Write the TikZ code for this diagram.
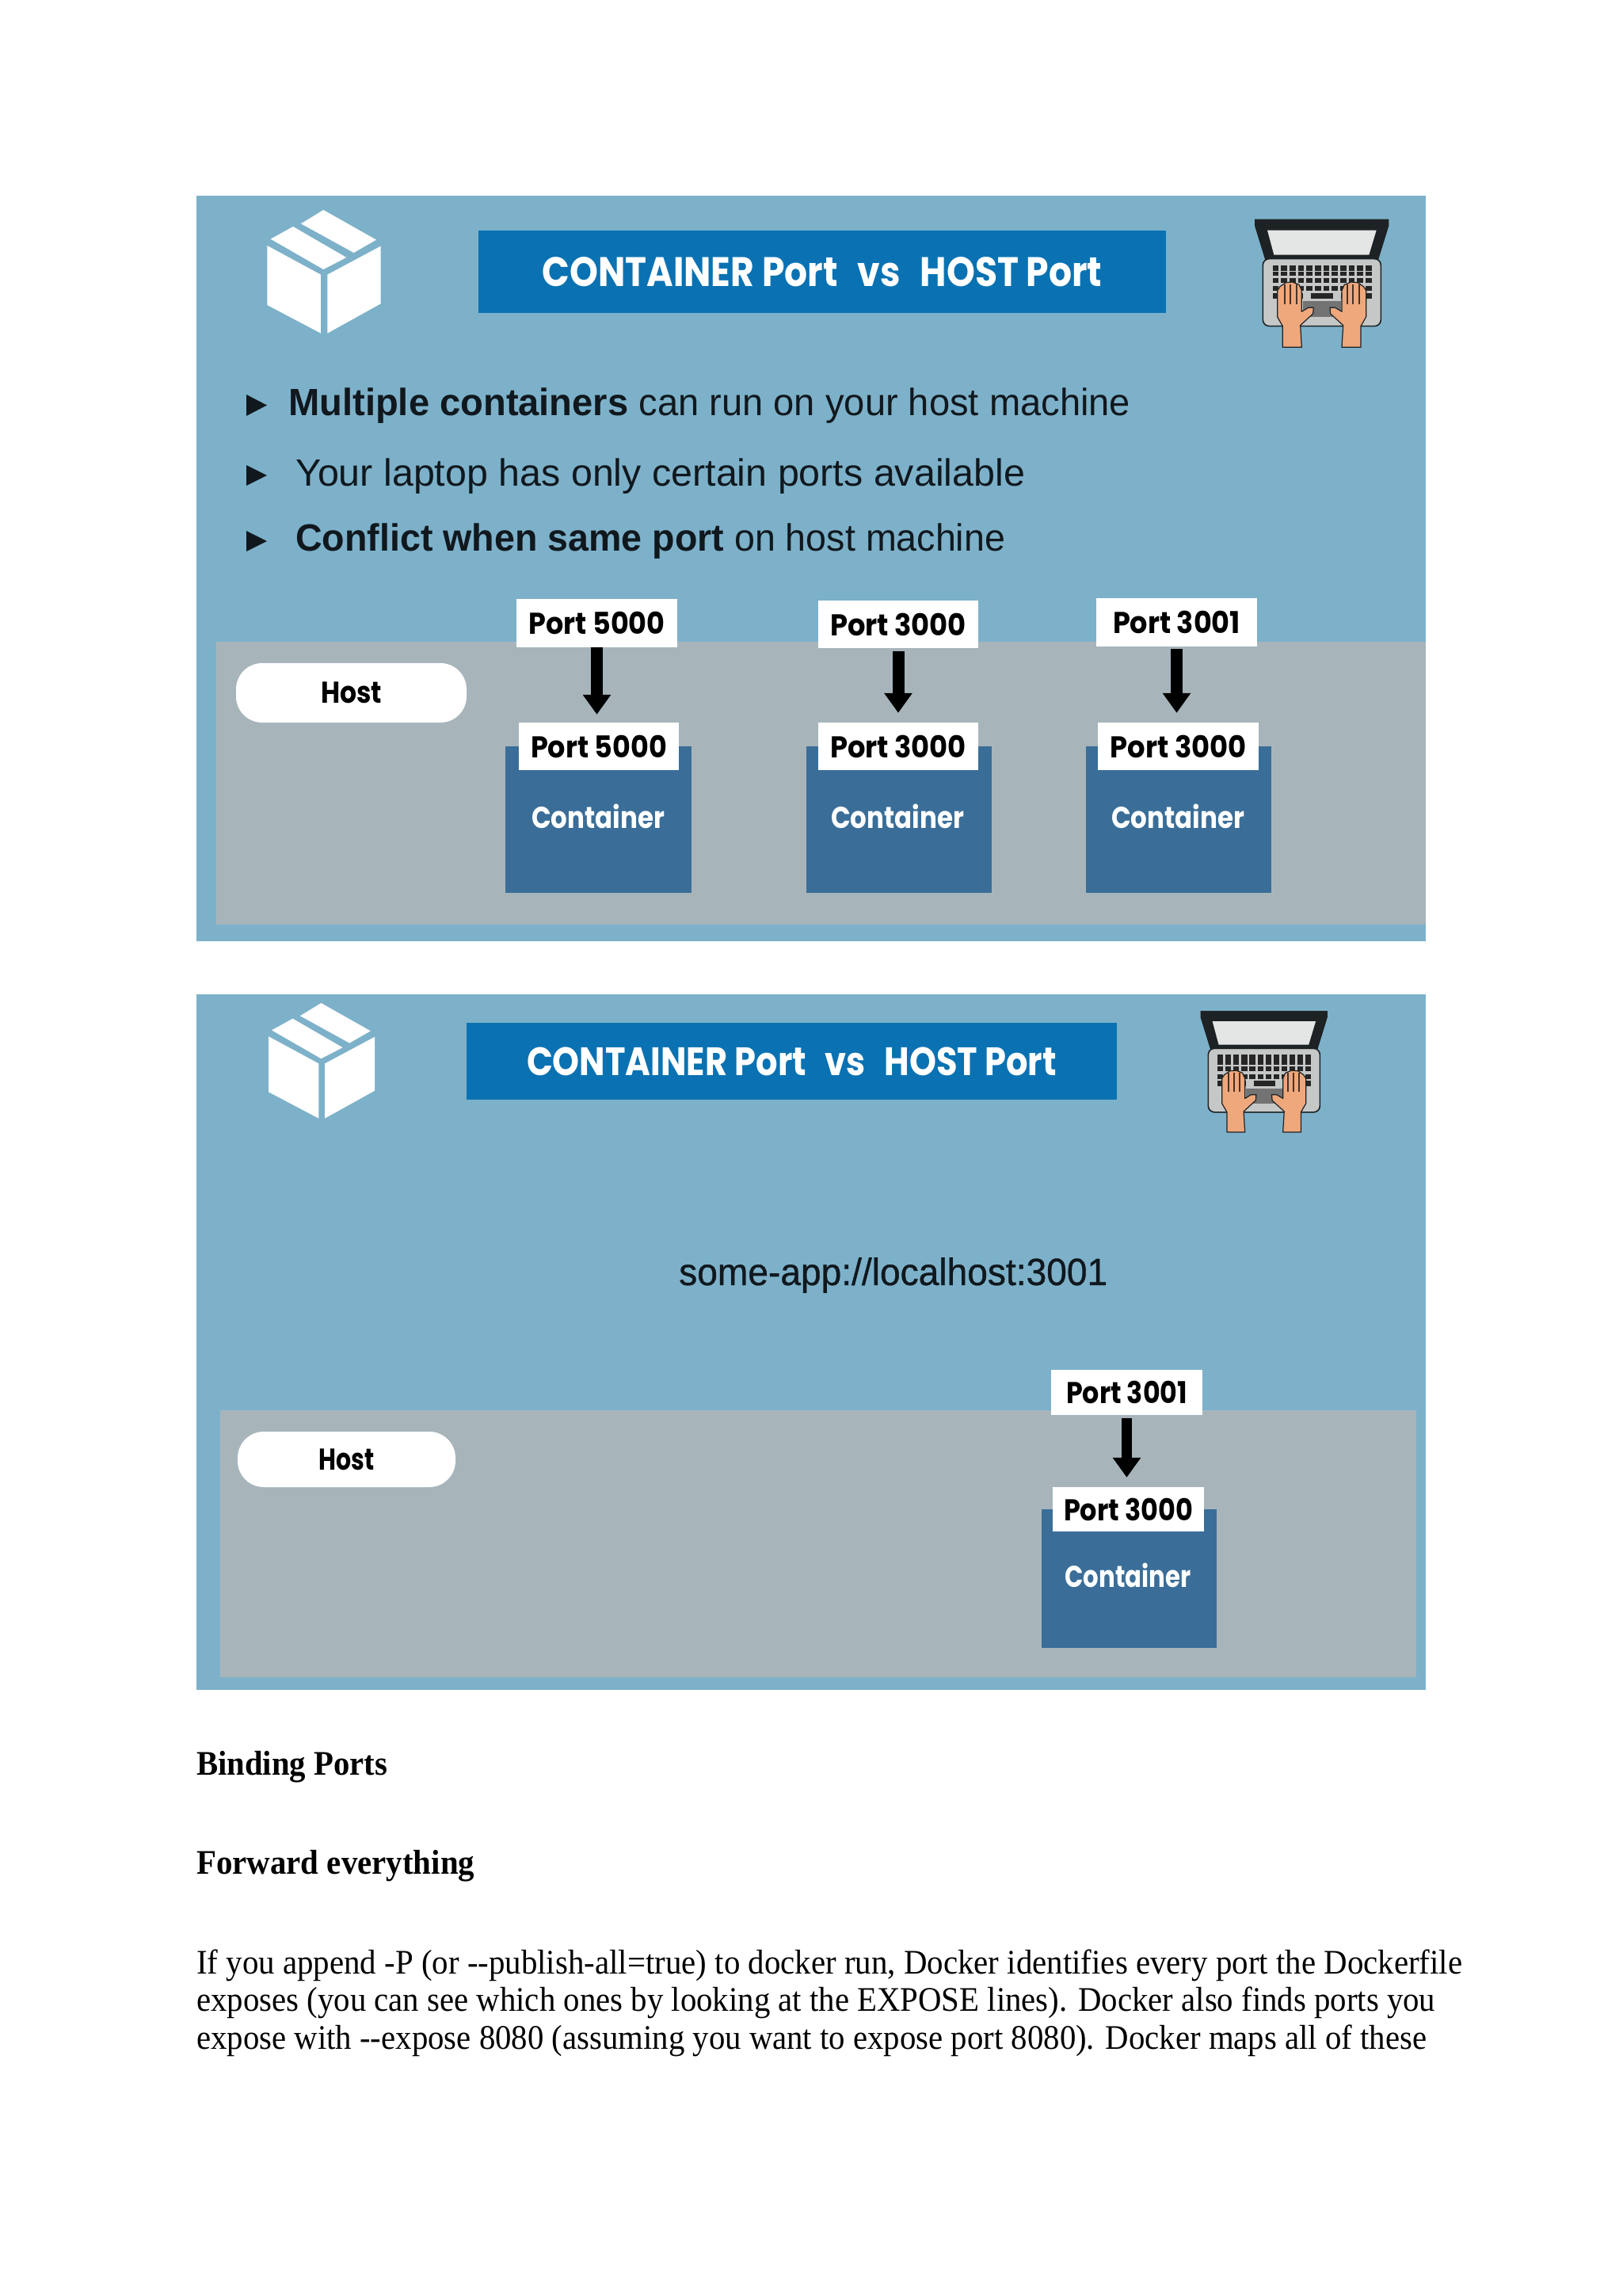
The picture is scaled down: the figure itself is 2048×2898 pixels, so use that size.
\documentclass[tikz,border=0pt]{standalone}
\usepackage{fontspec}
\usepackage{graphicx}
\usetikzlibrary{arrows.meta}
\setmainfont{Liberation Serif}
\newfontfamily\arial{Liberation Sans}
\newfontfamily\arialfat{Liberation Sans}[FakeBold=0.7]
\newfontfamily\geo{Poppins}
\newcommand{\fw}[2]{\resizebox{#1pt}{\height}{#2}}
\definecolor{panelblue}{HTML}{7DB1C9}
\definecolor{hostgrey}{HTML}{A7B5BB}
\definecolor{titleblue}{HTML}{0A72B2}
\definecolor{contblue}{HTML}{3A6E98}
\definecolor{ink}{HTML}{10181E}
\definecolor{lapdark}{HTML}{1D2224}
\definecolor{lapbase}{HTML}{C6C8C8}
\definecolor{lapscreen}{HTML}{E4E5E5}
\definecolor{skin}{HTML}{EFA77C}
\tikzset{
  panel/.style={fill=panelblue},
  hostarea/.style={fill=hostgrey},
  titlebar/.style={rectangle,fill=titleblue,text=white,inner sep=0pt,font=\geo\bfseries\fontsize{#1}{#1}\selectfont},
  portbox/.style={rectangle,fill=white,text=black,inner sep=0pt,font=\geo\bfseries\fontsize{38}{38}\selectfont},
  hostpill/.style={rectangle,rounded corners=33pt,fill=white,text=black,inner sep=0pt,font=\geo\bfseries\fontsize{38}{38}\selectfont},
  contbox/.style={rectangle,fill=contblue,inner sep=0pt},
  contlabel/.style={text=white,inner sep=0pt,font=\geo\bfseries\fontsize{38}{38}\selectfont},
  portarrow/.style={draw=black,line width=#1,-{Triangle[width=34pt,length=25pt]}},
  portarrow/.default=15pt,
  bullettext/.style={anchor=base west,inner sep=0pt,text=ink,font=\arial\fontsize{48}{48}\selectfont},
  urltext/.style={anchor=base west,inner sep=0pt,text=ink,font=\arialfat\fontsize{48}{48}\selectfont},
  bodytext/.style={anchor=base west,inner sep=0pt,text=black,font=\fontsize{43.5}{43.5}\selectfont},
  bulletmark/.style={fill=ink},
}
\newcommand{\boxicon}[3]{%
 \begin{scope}[shift={(#1,#2)},x=#3pt,y=-#3pt]
  \fill[white] (65,155)--(150,108)--(352,225)--(265,270)--cycle;
  \fill[white] (180,97)--(265,45)--(465,158)--(380,207)--cycle;
  \fill[white] (52,180)--(255,290)--(255,512)--(52,405)--cycle;
  \fill[white] (280,290)--(482,182)--(482,400)--(280,512)--cycle;
 \end{scope}}
\newcommand{\handshape}{%
  (178,535)--(178,455)--(158,420)--(158,320)--(168,305)--(190,290)--(215,288)--(240,298)--(250,320)--(250,400)--(275,385)--(295,385)--(293,408)--(245,452)--(250,535)--cycle}
\newcommand{\laptopicon}[3]{%
 \begin{scope}[shift={(#1,#2)},x=#3pt,y=-#3pt]
  \fill[lapdark] (72,50)--(580,50)--(580,75)--(540,205)--(112,205)--(72,75)--cycle;
  \fill[lapscreen] (120,92)--(533,92)--(505,185)--(145,185)--cycle;
  \filldraw[fill=lapbase,draw=lapdark,line width=1.6pt,rounded corners=8pt] (103,200) rectangle (550,455);
  \foreach \r/\ya/\yb in {0/225/245,1/248/265,2/272/292,3/302/322,4/330/352}{
    \foreach \c in {0,...,11}{
      \fill[black!85] ({140+\c*32},\ya) rectangle ({163+\c*32},\yb);
    }
  }
  \fill[lapbase] (255,328) rectangle (400,356);
  \fill[black!85] (285,330) rectangle (370,352);
  \fill[black!55] (255,360) rectangle (400,420);
  \filldraw[fill=skin,draw=lapdark,line width=1.2pt,line join=round] \handshape;
  \begin{scope}[xshift=652*#3 pt,xscale=-1]
    \filldraw[fill=skin,draw=lapdark,line width=1.2pt,line join=round] \handshape;
    \foreach \x in {185,207,230}{\draw[black!70!skin,line width=2pt] (\x,298)--(\x,372);}
  \end{scope}
  \foreach \x in {185,207,230}{\draw[black!70!skin,line width=2pt] (\x,298)--(\x,372);}
 \end{scope}}
\begin{document}
\begin{tikzpicture}[x=1pt,y=-1pt]
\useasboundingbox (0,0) rectangle (2048,2898);
\fill[white] (0,0) rectangle (2048,2898);
%
% ---------- first panel
\fill[panel] (248,247) rectangle (1800,1188);
\fill[hostarea] (273,810) rectangle (1800,1167);
\boxicon{320}{250}{0.3333}
\laptopicon{1560}{260}{0.3333}
\node[titlebar=52,minimum width=868pt,minimum height=104pt] (title1) at (1038,343) {\fw{707}{CONTAINER Port\hspace{0.55em}vs\hspace{0.55em}HOST Port}};
\foreach \ya/\yb in {498/525,587/613,670/696}
  \fill[bulletmark] (311,\ya)--(337,{(\ya+\yb)/2})--(311,\yb)--cycle;
\node[bullettext] (b1) at (364,524) {\fw{1063}{\textbf{Multiple containers} can run on your host machine}};
\node[bullettext] (b2) at (373,613) {\fw{921}{Your laptop has only certain ports available}};
\node[bullettext] (b3) at (373,695) {\fw{896}{\textbf{Conflict when same port} on host machine}};
%
\node[hostpill,minimum width=291pt,minimum height=75pt] (host1) at (443.5,874.5) {\fw{77}{Host}};
%
\node[contbox,minimum width=235pt,minimum height=185pt] (c1) at (755.5,1034.5) {};
\node[contbox,minimum width=234pt,minimum height=185pt] (c2) at (1135,1034.5) {};
\node[contbox,minimum width=234pt,minimum height=185pt] (c3) at (1488,1034.5) {};
\node[contlabel] (cl1) at (755,1030) {\fw{168}{Container}};
\node[contlabel] (cl2) at (1133,1030) {\fw{168}{Container}};
\node[contlabel] (cl3) at (1487,1030) {\fw{168}{Container}};
%
\node[portbox,minimum width=203pt,minimum height=61pt] (t1) at (753.5,786.5) {\fw{172}{Port 5000}};
\node[portbox,minimum width=202pt,minimum height=60pt] (t2) at (1134,788) {\fw{172}{Port 3000}};
\node[portbox,minimum width=203pt,minimum height=61pt] (t3) at (1485.5,785.5) {\fw{161}{Port 3001}};
\node[portbox,minimum width=202pt,minimum height=60pt] (p1) at (756,942) {\fw{172}{Port 5000}};
\node[portbox,minimum width=202pt,minimum height=60pt] (p2) at (1134,942) {\fw{172}{Port 3000}};
\node[portbox,minimum width=203pt,minimum height=60pt] (p3) at (1487.5,942) {\fw{172}{Port 3000}};
\draw[portarrow,shorten >=10pt] (t1.south) -- (t1.south |- p1.north);
\draw[portarrow,shorten <=4pt,shorten >=12pt] (t2.south) -- (t2.south |- p2.north);
\draw[portarrow,shorten <=3pt,shorten >=12pt] (t3.south) -- (t3.south |- p3.north);
%
% ---------- second panel
\fill[panel] (248,1255) rectangle (1800,2133);
\fill[hostarea] (278,1780) rectangle (1788,2117);
\boxicon{322.8}{1252}{0.3117}
\laptopicon{1492.8}{1260.2}{0.3156}
\node[titlebar=50,minimum width=821pt,minimum height=97pt] (title2) at (999.5,1339.5) {\fw{669}{CONTAINER Port\hspace{0.55em}vs\hspace{0.55em}HOST Port}};
\node[urltext] (url) at (857,1622) {\fw{541}{some-app://localhost:3001}};
%
\node[hostpill,minimum width=275pt,minimum height=70pt] (host2) at (437.5,1842) {\fw{70}{Host}};
\node[contbox,minimum width=221.5pt,minimum height=175pt] (c4) at (1425.25,1992.5) {};
\node[contlabel] (cl4) at (1424,1988) {\fw{159}{Container}};
\node[portbox,minimum width=191pt,minimum height=57pt] (t4) at (1422.5,1757.5) {\fw{153}{Port 3001}};
\node[portbox,minimum width=191pt,minimum height=56pt] (p4) at (1424.5,1905) {\fw{163}{Port 3000}};
\draw[portarrow=13pt,shorten <=4pt,shorten >=12pt] (t4.south) -- (t4.south |- p4.north);
%
% ---------- text below
\node[bodytext] (h1) at (248,2240) {\fw{241}{\bfseries Binding Ports}};
\node[bodytext] (h2) at (248,2365) {\fw{351}{\bfseries Forward everything}};
\node[bodytext] (l1) at (248,2491) {\fw{1598}{If you append -P (or -{}-publish-all=true) to docker run, Docker identifies every port the Dockerfile}};
\node[bodytext] (l2) at (248,2538.5) {\fw{1564}{exposes (you can see which ones by looking at the EXPOSE lines). Docker also finds ports you}};
\node[bodytext] (l3) at (248,2586) {\fw{1553}{expose with -{}-expose 8080 (assuming you want to expose port 8080). Docker maps all of these}};
\end{tikzpicture}
\end{document}
